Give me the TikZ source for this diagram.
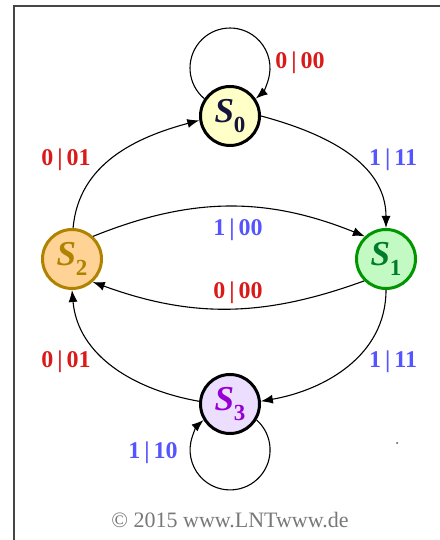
\documentclass[tikz,border=0pt]{standalone}
\usepackage{amsmath}
\usepackage{fontspec}
\setmainfont{Liberation Serif}
\usepackage{tikz}
\usetikzlibrary{arrows}
\usetikzlibrary{arrows.meta}
\definecolor{lntred}{RGB}{220,25,25}
\definecolor{lntblue}{RGB}{85,85,255}
\definecolor{lntgray}{RGB}{120,120,120}
\definecolor{framegray}{RGB}{70,70,70}
\definecolor{fillzero}{RGB}{255,255,200}
\definecolor{textzero}{RGB}{20,20,60}
\definecolor{fillone}{RGB}{195,250,195}
\definecolor{lineone}{RGB}{0,150,0}
\definecolor{textone}{RGB}{0,125,40}
\definecolor{filltwo}{RGB}{255,210,150}
\definecolor{linetwo}{RGB}{175,130,0}
\definecolor{fillthree}{RGB}{235,222,255}
\definecolor{textthree}{RGB}{150,0,210}
\newcommand{\lbl}[2]{\textbf{#1\,|\,#2}}
\newcommand{\stname}[1]{\textbf{\textit{S}}\raisebox{-0.28em}{\fontsize{23}{23}\selectfont\textbf{#1}}}

\begin{document}
\begin{tikzpicture}[x=1pt,y=1pt]
\tikzstyle{state}=[circle,draw,line width=3pt,minimum size=59pt,inner sep=0pt,font=\fontsize{35}{37}\selectfont]
\tikzstyle{lab}=[font=\fontsize{24}{26}\selectfont]
\tikzstyle{trans}=[line width=1.1pt,arrows={-Latex[length=12pt,width=9pt]}]
\useasboundingbox (0,0) rectangle (439,540);
\draw[framegray,line width=2pt] (14,-10) -- (14,534) -- (450,534);
\node[state,fill=fillzero,text=textzero] (s0) at (230,424) {\stname{0}};
\node[state,fill=fillone,draw=lineone,text=textone] (s1) at (386,281) {\stname{1}};
\node[state,fill=filltwo,draw=linetwo,text=linetwo] (s2) at (72,281) {\stname{2}};
\node[state,fill=fillthree,text=textthree] (s3) at (230,136) {\stname{3}};
% self loops
\draw[trans] (s0.146) arc[start angle=230,end angle=-50,radius=40];
\draw[trans] (s3.-31) arc[start angle=48.5,end angle=-228.5,radius=40];
% transitions
\path[trans] (s0.0) edge [out=-15,in=90] (s1.90);
\path[trans] (s2.88) edge [out=85,in=195] (s0.188);
\path[trans] (s2.47) edge [out=22,in=158] (s1.133);
\path[trans] (s1.225) edge [out=200,in=-20] (s2.-48);
\path[trans] (s1.-90) edge [out=-90,in=10] (s3.5);
\path[trans] (s3.175) edge [out=170,in=-85] (s2.-90);
\node[lab,text=lntred] (l00a) at (300,477) {\lbl{0}{00}};
\node[lab,text=lntred] (l01a) at (66,380) {\lbl{0}{01}};
\node[lab,text=lntblue] (l11a) at (393,380) {\lbl{1}{11}};
\node[lab,text=lntblue] (l00b) at (238,310) {\lbl{1}{00}};
\node[lab,text=lntred] (l00c) at (238,247) {\lbl{0}{00}};
\node[lab,text=lntred] (l01b) at (66,178) {\lbl{0}{01}};
\node[lab,text=lntblue] (l11b) at (393,178) {\lbl{1}{11}};
\node[lab,text=lntblue] (l10) at (153,87) {\lbl{1}{10}};
\node[text=lntgray,font=\fontsize{22}{24}\selectfont] (copy) at (230,20) {\copyright{} 2015 www.LNTwww.de};
\fill[black!70] (397,97) circle (1pt);
\end{tikzpicture}
\end{document}
